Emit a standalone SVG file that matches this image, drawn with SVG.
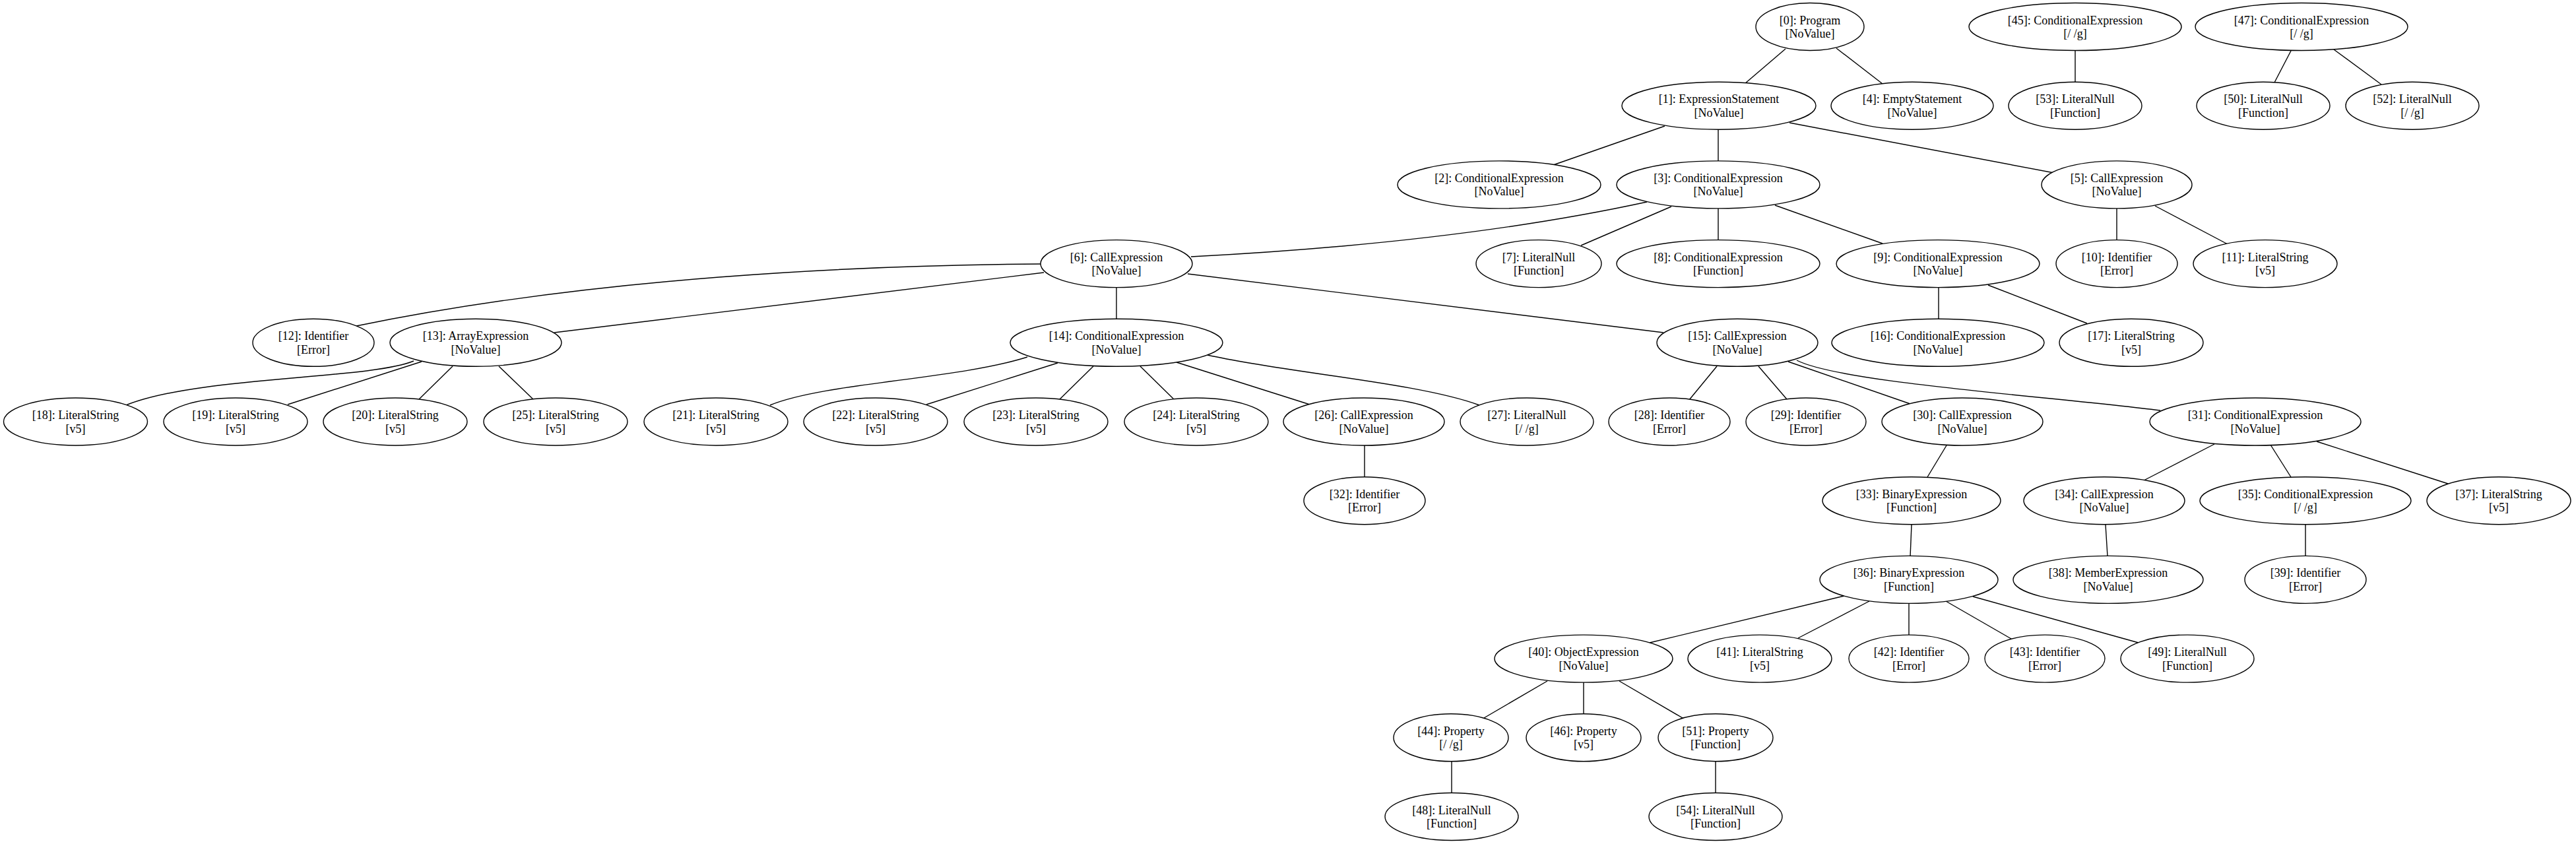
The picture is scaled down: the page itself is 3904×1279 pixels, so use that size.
<svg xmlns="http://www.w3.org/2000/svg" width="3904" height="1279" viewBox="0 0 3904 1279">
<style>
.e{fill:none;stroke:#000;stroke-width:1.4}
.n ellipse{fill:#fff;stroke:#000;stroke-width:1.4}
.n text{font-family:"Liberation Serif","Times New Roman",serif;font-size:18px;text-anchor:middle;fill:#000}
</style>
<rect width="3904" height="1279" fill="#fff"/>
<g id="edges">
<path class="e" d="M2706,74 L2644,127"/>
<path class="e" d="M2783,73 L2853,127"/>
<path class="e" d="M3145,77 L3145,124"/>
<path class="e" d="M3472,77 L3447,125"/>
<path class="e" d="M3537,75 L3609,128"/>
<path class="e" d="M2523,191 L2354,250"/>
<path class="e" d="M2604,196 L2604,244"/>
<path class="e" d="M2712,186 L3113,262"/>
<path class="e" d="M2496,306 Q2210,368 1805,389"/>
<path class="e" d="M2533,313 L2396,372"/>
<path class="e" d="M2604,316 L2604,364"/>
<path class="e" d="M2690,311 L2853,369"/>
<path class="e" d="M3208,316 L3208,364"/>
<path class="e" d="M3266,312 L3376,370"/>
<path class="e" d="M1577,400 C1300,402 900,420 540,494"/>
<path class="e" d="M1582,413 L840,504"/>
<path class="e" d="M1692,436 L1692,483"/>
<path class="e" d="M1800,415 L2521,504"/>
<path class="e" d="M2938,436 L2938,483"/>
<path class="e" d="M3013,432 L3163,490"/>
<path class="e" d="M627,547 C560,575 300,570 191,614"/>
<path class="e" d="M639,548 L436,613"/>
<path class="e" d="M686,555 L635,605"/>
<path class="e" d="M756,555 L808,605"/>
<path class="e" d="M1557,541 C1450,575 1250,580 1167,614"/>
<path class="e" d="M1603,550 L1404,613"/>
<path class="e" d="M1657,555 L1605,606"/>
<path class="e" d="M1728,555 L1780,606"/>
<path class="e" d="M1783,549 L1985,613"/>
<path class="e" d="M1830,538 C1950,565 2150,580 2242,614"/>
<path class="e" d="M2602,555 L2560,606"/>
<path class="e" d="M2665,555 L2708,605"/>
<path class="e" d="M2710,548 L2895,612"/>
<path class="e" d="M2723,546 C2790,580 3100,600 3274,622"/>
<path class="e" d="M2068,675 L2068,723"/>
<path class="e" d="M2950,675 L2921,723"/>
<path class="e" d="M3356,673 L3249,728"/>
<path class="e" d="M3441,674 L3472,723"/>
<path class="e" d="M3511,669 L3710,733"/>
<path class="e" d="M2897,795 L2895,844"/>
<path class="e" d="M3191,795 L3194,843"/>
<path class="e" d="M3494,795 L3494,843"/>
<path class="e" d="M2795,903 L2500,974"/>
<path class="e" d="M2833,911 L2725,967"/>
<path class="e" d="M2893,915 L2893,963"/>
<path class="e" d="M2949,911 L3048,968"/>
<path class="e" d="M2990,904 L3241,974"/>
<path class="e" d="M2345,1032 L2249,1088"/>
<path class="e" d="M2400,1034 L2400,1082"/>
<path class="e" d="M2454,1032 L2550,1088"/>
<path class="e" d="M2200,1154 L2200,1202"/>
<path class="e" d="M2600,1154 L2600,1202"/>
</g>
<g id="n0" class="n"><ellipse cx="2743" cy="40.5" rx="82" ry="36"/><text x="2743" y="36.5">[0]: Program</text><text x="2743" y="57">[NoValue]</text></g>
<g id="n45" class="n"><ellipse cx="3145" cy="40.5" rx="161" ry="36"/><text x="3145" y="36.5">[45]: ConditionalExpression</text><text x="3145" y="57">[/ /g]</text></g>
<g id="n47" class="n"><ellipse cx="3488" cy="40.5" rx="161" ry="36"/><text x="3488" y="36.5">[47]: ConditionalExpression</text><text x="3488" y="57">[/ /g]</text></g>
<g id="n1" class="n"><ellipse cx="2605" cy="160.2" rx="147" ry="36"/><text x="2605" y="156.2">[1]: ExpressionStatement</text><text x="2605" y="176.7">[NoValue]</text></g>
<g id="n4" class="n"><ellipse cx="2898" cy="160.2" rx="123" ry="36"/><text x="2898" y="156.2">[4]: EmptyStatement</text><text x="2898" y="176.7">[NoValue]</text></g>
<g id="n53" class="n"><ellipse cx="3145" cy="160.2" rx="101" ry="36"/><text x="3145" y="156.2">[53]: LiteralNull</text><text x="3145" y="176.7">[Function]</text></g>
<g id="n50" class="n"><ellipse cx="3430" cy="160.2" rx="101" ry="36"/><text x="3430" y="156.2">[50]: LiteralNull</text><text x="3430" y="176.7">[Function]</text></g>
<g id="n52" class="n"><ellipse cx="3656" cy="160.2" rx="101" ry="36"/><text x="3656" y="156.2">[52]: LiteralNull</text><text x="3656" y="176.7">[/ /g]</text></g>
<g id="n2" class="n"><ellipse cx="2272" cy="279.9" rx="154" ry="36"/><text x="2272" y="275.9">[2]: ConditionalExpression</text><text x="2272" y="296.4">[NoValue]</text></g>
<g id="n3" class="n"><ellipse cx="2604" cy="279.9" rx="154" ry="36"/><text x="2604" y="275.9">[3]: ConditionalExpression</text><text x="2604" y="296.4">[NoValue]</text></g>
<g id="n5" class="n"><ellipse cx="3208" cy="279.9" rx="114" ry="36"/><text x="3208" y="275.9">[5]: CallExpression</text><text x="3208" y="296.4">[NoValue]</text></g>
<g id="n6" class="n"><ellipse cx="1692" cy="399.6" rx="115" ry="36"/><text x="1692" y="395.6">[6]: CallExpression</text><text x="1692" y="416.1">[NoValue]</text></g>
<g id="n7" class="n"><ellipse cx="2332" cy="399.6" rx="95" ry="36"/><text x="2332" y="395.6">[7]: LiteralNull</text><text x="2332" y="416.1">[Function]</text></g>
<g id="n8" class="n"><ellipse cx="2604" cy="399.6" rx="154" ry="36"/><text x="2604" y="395.6">[8]: ConditionalExpression</text><text x="2604" y="416.1">[Function]</text></g>
<g id="n9" class="n"><ellipse cx="2937" cy="399.6" rx="154" ry="36"/><text x="2937" y="395.6">[9]: ConditionalExpression</text><text x="2937" y="416.1">[NoValue]</text></g>
<g id="n10" class="n"><ellipse cx="3208" cy="399.6" rx="92" ry="36"/><text x="3208" y="395.6">[10]: Identifier</text><text x="3208" y="416.1">[Error]</text></g>
<g id="n11" class="n"><ellipse cx="3433" cy="399.6" rx="109" ry="36"/><text x="3433" y="395.6">[11]: LiteralString</text><text x="3433" y="416.1">[v5]</text></g>
<g id="n12" class="n"><ellipse cx="475" cy="519.3" rx="92" ry="36"/><text x="475" y="515.3">[12]: Identifier</text><text x="475" y="535.8">[Error]</text></g>
<g id="n13" class="n"><ellipse cx="721" cy="519.3" rx="130" ry="36"/><text x="721" y="515.3">[13]: ArrayExpression</text><text x="721" y="535.8">[NoValue]</text></g>
<g id="n14" class="n"><ellipse cx="1692" cy="519.3" rx="161" ry="36"/><text x="1692" y="515.3">[14]: ConditionalExpression</text><text x="1692" y="535.8">[NoValue]</text></g>
<g id="n15" class="n"><ellipse cx="2633" cy="519.3" rx="122" ry="36"/><text x="2633" y="515.3">[15]: CallExpression</text><text x="2633" y="535.8">[NoValue]</text></g>
<g id="n16" class="n"><ellipse cx="2937" cy="519.3" rx="161" ry="36"/><text x="2937" y="515.3">[16]: ConditionalExpression</text><text x="2937" y="535.8">[NoValue]</text></g>
<g id="n17" class="n"><ellipse cx="3230" cy="519.3" rx="109" ry="36"/><text x="3230" y="515.3">[17]: LiteralString</text><text x="3230" y="535.8">[v5]</text></g>
<g id="n18" class="n"><ellipse cx="114.5" cy="639" rx="109" ry="36"/><text x="114.5" y="635">[18]: LiteralString</text><text x="114.5" y="655.5">[v5]</text></g>
<g id="n19" class="n"><ellipse cx="357" cy="639" rx="109" ry="36"/><text x="357" y="635">[19]: LiteralString</text><text x="357" y="655.5">[v5]</text></g>
<g id="n20" class="n"><ellipse cx="599" cy="639" rx="109" ry="36"/><text x="599" y="635">[20]: LiteralString</text><text x="599" y="655.5">[v5]</text></g>
<g id="n25" class="n"><ellipse cx="842" cy="639" rx="109" ry="36"/><text x="842" y="635">[25]: LiteralString</text><text x="842" y="655.5">[v5]</text></g>
<g id="n21" class="n"><ellipse cx="1085" cy="639" rx="109" ry="36"/><text x="1085" y="635">[21]: LiteralString</text><text x="1085" y="655.5">[v5]</text></g>
<g id="n22" class="n"><ellipse cx="1327" cy="639" rx="109" ry="36"/><text x="1327" y="635">[22]: LiteralString</text><text x="1327" y="655.5">[v5]</text></g>
<g id="n23" class="n"><ellipse cx="1570" cy="639" rx="109" ry="36"/><text x="1570" y="635">[23]: LiteralString</text><text x="1570" y="655.5">[v5]</text></g>
<g id="n24" class="n"><ellipse cx="1813" cy="639" rx="109" ry="36"/><text x="1813" y="635">[24]: LiteralString</text><text x="1813" y="655.5">[v5]</text></g>
<g id="n26" class="n"><ellipse cx="2067" cy="639" rx="122" ry="36"/><text x="2067" y="635">[26]: CallExpression</text><text x="2067" y="655.5">[NoValue]</text></g>
<g id="n27" class="n"><ellipse cx="2314" cy="639" rx="101" ry="36"/><text x="2314" y="635">[27]: LiteralNull</text><text x="2314" y="655.5">[/ /g]</text></g>
<g id="n28" class="n"><ellipse cx="2530" cy="639" rx="92" ry="36"/><text x="2530" y="635">[28]: Identifier</text><text x="2530" y="655.5">[Error]</text></g>
<g id="n29" class="n"><ellipse cx="2737" cy="639" rx="91" ry="36"/><text x="2737" y="635">[29]: Identifier</text><text x="2737" y="655.5">[Error]</text></g>
<g id="n30" class="n"><ellipse cx="2974" cy="639" rx="122" ry="36"/><text x="2974" y="635">[30]: CallExpression</text><text x="2974" y="655.5">[NoValue]</text></g>
<g id="n31" class="n"><ellipse cx="3418" cy="639" rx="160" ry="36"/><text x="3418" y="635">[31]: ConditionalExpression</text><text x="3418" y="655.5">[NoValue]</text></g>
<g id="n32" class="n"><ellipse cx="2068" cy="758.7" rx="92" ry="36"/><text x="2068" y="754.7">[32]: Identifier</text><text x="2068" y="775.2">[Error]</text></g>
<g id="n33" class="n"><ellipse cx="2897" cy="758.7" rx="135" ry="36"/><text x="2897" y="754.7">[33]: BinaryExpression</text><text x="2897" y="775.2">[Function]</text></g>
<g id="n34" class="n"><ellipse cx="3189" cy="758.7" rx="122" ry="36"/><text x="3189" y="754.7">[34]: CallExpression</text><text x="3189" y="775.2">[NoValue]</text></g>
<g id="n35" class="n"><ellipse cx="3494" cy="758.7" rx="160" ry="36"/><text x="3494" y="754.7">[35]: ConditionalExpression</text><text x="3494" y="775.2">[/ /g]</text></g>
<g id="n37" class="n"><ellipse cx="3787" cy="758.7" rx="109" ry="36"/><text x="3787" y="754.7">[37]: LiteralString</text><text x="3787" y="775.2">[v5]</text></g>
<g id="n36" class="n"><ellipse cx="2893" cy="878.4" rx="135" ry="36"/><text x="2893" y="874.4">[36]: BinaryExpression</text><text x="2893" y="894.9">[Function]</text></g>
<g id="n38" class="n"><ellipse cx="3195" cy="878.4" rx="144" ry="36"/><text x="3195" y="874.4">[38]: MemberExpression</text><text x="3195" y="894.9">[NoValue]</text></g>
<g id="n39" class="n"><ellipse cx="3494" cy="878.4" rx="92" ry="36"/><text x="3494" y="874.4">[39]: Identifier</text><text x="3494" y="894.9">[Error]</text></g>
<g id="n40" class="n"><ellipse cx="2400" cy="998.1" rx="135" ry="36"/><text x="2400" y="994.1">[40]: ObjectExpression</text><text x="2400" y="1014.6">[NoValue]</text></g>
<g id="n41" class="n"><ellipse cx="2667" cy="998.1" rx="109" ry="36"/><text x="2667" y="994.1">[41]: LiteralString</text><text x="2667" y="1014.6">[v5]</text></g>
<g id="n42" class="n"><ellipse cx="2893" cy="998.1" rx="91" ry="36"/><text x="2893" y="994.1">[42]: Identifier</text><text x="2893" y="1014.6">[Error]</text></g>
<g id="n43" class="n"><ellipse cx="3099" cy="998.1" rx="91" ry="36"/><text x="3099" y="994.1">[43]: Identifier</text><text x="3099" y="1014.6">[Error]</text></g>
<g id="n49" class="n"><ellipse cx="3315" cy="998.1" rx="101" ry="36"/><text x="3315" y="994.1">[49]: LiteralNull</text><text x="3315" y="1014.6">[Function]</text></g>
<g id="n44" class="n"><ellipse cx="2199" cy="1117.8" rx="87" ry="36"/><text x="2199" y="1113.8">[44]: Property</text><text x="2199" y="1134.3">[/ /g]</text></g>
<g id="n46" class="n"><ellipse cx="2400" cy="1117.8" rx="87" ry="36"/><text x="2400" y="1113.8">[46]: Property</text><text x="2400" y="1134.3">[v5]</text></g>
<g id="n51" class="n"><ellipse cx="2600" cy="1117.8" rx="87" ry="36"/><text x="2600" y="1113.8">[51]: Property</text><text x="2600" y="1134.3">[Function]</text></g>
<g id="n48" class="n"><ellipse cx="2200" cy="1237.5" rx="101" ry="36"/><text x="2200" y="1233.5">[48]: LiteralNull</text><text x="2200" y="1254">[Function]</text></g>
<g id="n54" class="n"><ellipse cx="2600" cy="1237.5" rx="101" ry="36"/><text x="2600" y="1233.5">[54]: LiteralNull</text><text x="2600" y="1254">[Function]</text></g>
</svg>
